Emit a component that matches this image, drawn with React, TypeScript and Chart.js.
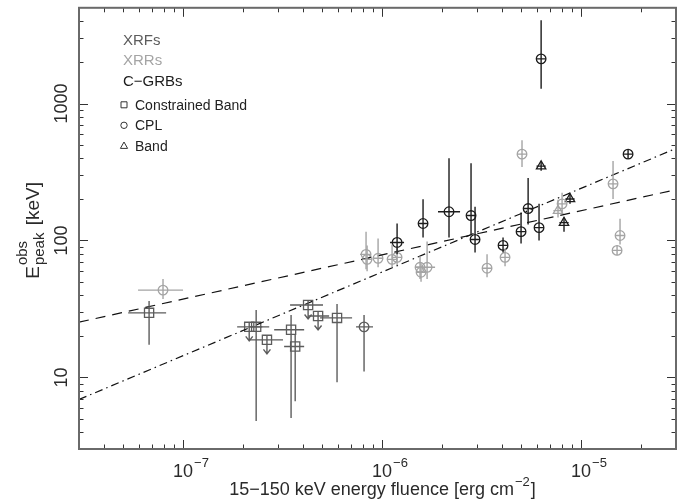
import React, { useEffect, useRef } from "react";
import { Chart, registerables } from "chart.js";

Chart.register(...registerables);

// rows: [fluence, Epeak, fluenceMin, fluenceMax, EpeakMin, EpeakMax]
const xrfBandPoints = [
  [6.75e-8, 29.6, 5.3e-8, 8.22e-8, 17.3, 36.1],
  [2.33e-7, 23.4, 2.15e-7, 2.71e-7, 4.8, 31.1],
  [3.49e-7, 22.3, 2.87e-7, 4.06e-7, 5.05, 28.6],
  [3.66e-7, 16.8, 3.22e-7, 4.06e-7, 6.7, 20.5],
  [5.94e-7, 27.2, 4.88e-7, 7.07e-7, 9.2, 34.3],
];
// upper limits: [fluence, Epeak, fluenceMin, fluenceMax]
const xrfBandUpperLimits = [
  [2.15e-7, 23.4, 1.87e-7, 2.5e-7],
  [2.64e-7, 18.8, 2.17e-7, 3.18e-7],
  [4.25e-7, 33.8, 3.45e-7, 5.05e-7],
  [4.77e-7, 28.1, 4.25e-7, 5.42e-7],
];
const xrfCplPoints = [[8.12e-7, 23.4, 7.4e-7, 9.01e-7, 11.05, 28.6]];
const xrrCplPoints = [
  [7.93e-8, 43.4, 5.94e-8, 1.0e-7, 37.4, 52.2],
  [8.31e-7, 79.2, 7.75e-7, 8.7e-7, 61.6, 116],
  [8.41e-7, 72.8, 8.1e-7, 8.7e-7, 59.6, 92],
  [9.55e-7, 74.1, 9.2e-7, 9.9e-7, 63.7, 103.4],
  [1.123e-6, 72.8, 1.08e-6, 1.17e-6, 63.7, 93.5],
  [1.19e-6, 75.3, 1.15e-6, 1.23e-6, 65.9, 89.0],
  [1.552e-6, 63.7, 1.5e-6, 1.6e-6, 52.2, 76.6],
  [1.57e-6, 58.6, 1.52e-6, 1.62e-6, 50, 68.1],
  [1.684e-6, 63.7, 1.465e-6, 1.847e-6, 52.2, 98.3],
  [3.37e-6, 62.7, 3.27e-6, 3.47e-6, 53.9, 79.2],
  [4.15e-6, 75.3, 4.05e-6, 4.25e-6, 64.8, 87.5],
  [5.05e-6, 427, 4.9e-6, 5.2e-6, 344, 539],
  [8.03e-6, 185, 7.8e-6, 8.3e-6, 160, 223],
  [1.448e-5, 259, 1.41e-5, 1.49e-5, 201, 380],
  [1.517e-5, 84.6, 1.48e-5, 1.56e-5, 81.8, 89.0],
  [1.57e-5, 108.7, 1.53e-5, 1.61e-5, 93.5, 144],
];
const xrrBandPoints = [[7.66e-6, 165, 7.5e-6, 7.8e-6, 147, 198]];
const cgrbCplPoints = [
  [1.19e-6, 96.7, 1.097e-6, 1.29e-6, 79.2, 133],
  [1.607e-6, 133, 1.56e-6, 1.65e-6, 105, 200],
  [2.17e-6, 162, 1.911e-6, 2.466e-6, 105, 399],
  [2.8e-6, 152, 2.73e-6, 2.87e-6, 110.5, 367],
  [2.933e-6, 101.7, 2.86e-6, 3.0e-6, 81.8, 176],
  [4.055e-6, 92.0, 3.95e-6, 4.16e-6, 81.8, 105],
  [4.995e-6, 116, 4.87e-6, 5.12e-6, 95.1, 160],
  [5.42e-6, 171, 5.28e-6, 5.56e-6, 131, 286],
  [6.15e-6, 124, 6.0e-6, 6.3e-6, 100, 185],
  [6.3e-6, 2120, 6.15e-6, 6.45e-6, 1284, 4060],
  [1.723e-5, 427, 1.68e-5, 1.77e-5, 405, 450],
];
const cgrbBandPoints = [
  [6.3e-6, 349, 6.15e-6, 6.45e-6, 327, 374],
  [8.21e-6, 135, 8.0e-6, 8.4e-6, 116, 147],
  [8.8e-6, 201, 8.6e-6, 9.0e-6, 185, 215],
];
const dashedFit = [
  [3e-8, 25.3],
  [3e-5, 235],
];
const dashDotFit = [
  [3e-8, 6.9],
  [3e-5, 470],
];
const xRange = [3e-8, 3e-5];
const yRange = [3, 5000];
const xLabelExponents = [-7, -6, -5];
const yTickLabels = [10, 100, 1000];
const legendClasses = ["XRFs", "XRRs", "C\u2212GRBs"];
const legendModels = ["Constrained Band", "CPL", "Band"];
const xTitle = "15\u2212150 keV energy fluence [erg cm";
const xTitleSup = "\u22122";

const FONT = "'Liberation Sans', Arial, Helvetica, sans-serif";
const C_XRF = "#5c5c5c";
const C_XRR = "#a4a4a4";
const C_GRB = "#1c1c1c";

const toPts = (rows: number[][]) =>
  rows.map((r) => ({ x: r[0], y: r[1], xMin: r[2], xMax: r[3], yMin: r[4], yMax: r[5] }));
const toUL = (rows: number[][]) =>
  rows.map((r) => ({ x: r[0], y: r[1], xMin: r[2], xMax: r[3], ul: true }));
const toLine = (rows: number[][]) => rows.map((r) => ({ x: r[0], y: r[1] }));

const errorBarPlugin = {
  id: "errorBars",
  afterDatasetsDraw(chart: any) {
    const { ctx, chartArea: a, scales } = chart;
    const xs = scales.x;
    const ys = scales.y;
    ctx.save();
    ctx.beginPath();
    ctx.rect(a.left, a.top, a.right - a.left, a.bottom - a.top);
    ctx.clip();
    chart.data.datasets.forEach((ds: any) => {
      if (!ds.errorBars) return;
      ctx.strokeStyle = ds.borderColor;
      ctx.lineWidth = 1.4;
      const r = ds.barMin;
      ds.data.forEach((p: any) => {
        const cx = xs.getPixelForValue(p.x);
        const cy = ys.getPixelForValue(p.y);
        ctx.beginPath();
        const xl = Math.min(xs.getPixelForValue(p.xMin), cx - r);
        const xr = Math.max(xs.getPixelForValue(p.xMax), cx + r);
        ctx.moveTo(xl, cy);
        ctx.lineTo(xr, cy);
        if (p.ul) {
          const tip = cy + 14;
          ctx.moveTo(cx, cy - r);
          ctx.lineTo(cx, tip);
          ctx.moveTo(cx - 3.5, tip - 4.5);
          ctx.lineTo(cx, tip);
          ctx.lineTo(cx + 3.5, tip - 4.5);
        } else {
          const yt = Math.min(ys.getPixelForValue(p.yMax), cy - r);
          const yb = Math.max(ys.getPixelForValue(p.yMin), cy + r);
          ctx.moveTo(cx, yt);
          ctx.lineTo(cx, yb);
        }
        ctx.stroke();
      });
    });
    ctx.restore();
  },
};

const axesPlugin = {
  id: "frameAxes",
  afterDraw(chart: any) {
    const { ctx, chartArea: a, scales } = chart;
    const xs = scales.x;
    const ys = scales.y;
    ctx.save();
    // tick marks on all four sides, pointing inward
    ctx.strokeStyle = "#333";
    ctx.lineWidth = 1;
    for (let d = -9; d <= -4; d++) {
      for (let m = 1; m <= 9; m++) {
        const v = m * Math.pow(10, d);
        if (v < xs.min * 1.001 || v > xs.max * 0.999) continue;
        const px = Math.round(xs.getPixelForValue(v)) + 0.5;
        const len = m === 1 ? 9 : 4.5;
        ctx.beginPath();
        ctx.moveTo(px, a.bottom);
        ctx.lineTo(px, a.bottom - len);
        ctx.moveTo(px, a.top);
        ctx.lineTo(px, a.top + len);
        ctx.stroke();
      }
    }
    for (let d = 0; d <= 4; d++) {
      for (let m = 1; m <= 9; m++) {
        const v = m * Math.pow(10, d);
        if (v < ys.min * 1.001 || v > ys.max * 0.999) continue;
        const py = Math.round(ys.getPixelForValue(v)) + 0.5;
        const len = m === 1 ? 9 : 4.5;
        ctx.beginPath();
        ctx.moveTo(a.left, py);
        ctx.lineTo(a.left + len, py);
        ctx.moveTo(a.right, py);
        ctx.lineTo(a.right - len, py);
        ctx.stroke();
      }
    }
    // frame
    ctx.strokeStyle = "#6a6a6a";
    ctx.lineWidth = 2;
    ctx.strokeRect(a.left, a.top, a.right - a.left, a.bottom - a.top);

    ctx.fillStyle = "#2a2a2a";
    ctx.textBaseline = "alphabetic";
    // x tick labels
    xLabelExponents.forEach((e) => {
      const cx = xs.getPixelForValue(Math.pow(10, e));
      ctx.font = `18px ${FONT}`;
      const w1 = ctx.measureText("10").width;
      ctx.textAlign = "left";
      const start = cx - w1 / 2;
      ctx.fillText("10", start, a.bottom + 28);
      ctx.font = `13px ${FONT}`;
      ctx.fillText("\u2212" + Math.abs(e), start + w1 + 1, a.bottom + 18);
    });
    // y tick labels (rotated)
    yTickLabels.forEach((v) => {
      const cy = ys.getPixelForValue(v);
      ctx.save();
      ctx.translate(a.left - 12, cy);
      ctx.rotate(-Math.PI / 2);
      ctx.font = `18px ${FONT}`;
      ctx.textAlign = "center";
      ctx.fillText(String(v), 0, 0);
      ctx.restore();
    });
    // x title
    ctx.font = `18px ${FONT}`;
    const tw = ctx.measureText(xTitle).width;
    ctx.font = `13px ${FONT}`;
    const sw = ctx.measureText(xTitleSup).width;
    ctx.font = `18px ${FONT}`;
    const bw = ctx.measureText("]").width;
    const total = tw + sw + bw + 2;
    const sx = (a.left + a.right) / 2 - total / 2 + 5;
    const by = a.bottom + 46;
    ctx.textAlign = "left";
    ctx.fillText(xTitle, sx, by);
    ctx.font = `13px ${FONT}`;
    ctx.fillText(xTitleSup, sx + tw + 1, by - 9);
    ctx.font = `18px ${FONT}`;
    ctx.fillText("]", sx + tw + sw + 2, by);
    // y title (rotated)
    ctx.save();
    ctx.translate(a.left - 40, (a.top + a.bottom) / 2);
    ctx.rotate(-Math.PI / 2);
    ctx.textAlign = "left";
    ctx.font = `19px ${FONT}`;
    const wE = ctx.measureText("E").width;
    const wK = ctx.measureText(" [keV]").width;
    ctx.font = `15px ${FONT}`;
    const wP = ctx.measureText("peak").width;
    const wO = ctx.measureText("obs").width;
    const wMid = Math.max(wP, wO) + 3;
    const tot = wE + wMid + wK;
    const tx = -tot / 2 - 2;
    ctx.font = `19px ${FONT}`;
    ctx.fillText("E", tx, 0);
    ctx.font = `15px ${FONT}`;
    ctx.fillText("peak", tx + wE + 1, 5);
    ctx.fillText("obs", tx + wE + 1, -12);
    ctx.font = `19px ${FONT}`;
    ctx.fillText(" [keV]", tx + wE + wMid, 0);
    ctx.restore();

    // legend
    const lx = a.left + 44;
    const classColors = [C_XRF, C_XRR, C_GRB];
    ctx.font = `15px ${FONT}`;
    ctx.textAlign = "left";
    legendClasses.forEach((t, i) => {
      ctx.fillStyle = classColors[i];
      ctx.fillText(t, lx, a.top + 37 + i * 20.5);
    });
    ctx.font = `14px ${FONT}`;
    ctx.fillStyle = "#222";
    ctx.strokeStyle = "#333";
    ctx.lineWidth = 1;
    legendModels.forEach((t, i) => {
      const cy = a.top + 97 + i * 20.5;
      const sx2 = lx + 1;
      ctx.beginPath();
      if (i === 0) ctx.rect(sx2 - 3, cy - 3, 6, 6);
      else if (i === 1) ctx.arc(sx2, cy, 3.2, 0, Math.PI * 2);
      else {
        ctx.moveTo(sx2, cy - 3.8);
        ctx.lineTo(sx2 + 3.6, cy + 2.6);
        ctx.lineTo(sx2 - 3.6, cy + 2.6);
        ctx.closePath();
      }
      ctx.stroke();
      ctx.fillText(t, lx + 12, cy + 5);
    });
    ctx.restore();
  },
};

export default function App() {
  const ref = useRef<HTMLCanvasElement | null>(null);
  useEffect(() => {
    if (!ref.current) return;
    const marker = (color: string, style: string, radius: number, data: any[], barMin: number) => ({
      type: "scatter",
      data,
      pointStyle: style,
      pointRadius: radius,
      pointBorderWidth: 1.3,
      borderColor: color,
      pointBorderColor: color,
      pointBackgroundColor: "rgba(0,0,0,0)",
      backgroundColor: "rgba(0,0,0,0)",
      showLine: false,
      errorBars: true,
      barMin,
    });
    const chart = new Chart(ref.current, {
      type: "scatter",
      data: {
        datasets: [
          {
            type: "line",
            data: toLine(dashedFit),
            borderColor: "#111",
            borderWidth: 1.2,
            borderDash: [10, 7],
            pointRadius: 0,
            fill: false,
            showLine: true,
          } as any,
          {
            type: "line",
            data: toLine(dashDotFit),
            borderColor: "#111",
            borderWidth: 1.2,
            borderDash: [8, 4, 1.5, 4],
            pointRadius: 0,
            fill: false,
            showLine: true,
          } as any,
          marker(C_XRF, "rect", 6.5, [...toPts(xrfBandPoints), ...toUL(xrfBandUpperLimits)], 4.6),
          marker(C_XRF, "circle", 4.8, toPts(xrfCplPoints), 4.8),
          marker(C_XRR, "circle", 4.8, toPts(xrrCplPoints), 4.8),
          marker(C_XRR, "triangle", 5.4, toPts(xrrBandPoints), 4.6),
          marker(C_GRB, "circle", 4.8, toPts(cgrbCplPoints), 4.8),
          marker(C_GRB, "triangle", 5.4, toPts(cgrbBandPoints), 4.6),
        ] as any,
      },
      options: {
        animation: false,
        responsive: false,
        maintainAspectRatio: false,
        events: [],
        layout: { padding: { left: 79, top: 6, right: 13, bottom: 53 } },
        plugins: { legend: { display: false }, tooltip: { enabled: false } },
        scales: {
          x: { type: "logarithmic", min: xRange[0], max: xRange[1], bounds: "data", display: false },
          y: { type: "logarithmic", min: yRange[0], max: yRange[1], bounds: "data", display: false },
        },
      } as any,
      plugins: [errorBarPlugin, axesPlugin],
    });
    return () => chart.destroy();
  }, []);
  return (
    <div style={{ position: "absolute", left: 0, top: 0, width: 689, height: 502, background: "#fff" }}>
      <canvas ref={ref} width={689} height={502} style={{ display: "block" }} />
    </div>
  );
}
